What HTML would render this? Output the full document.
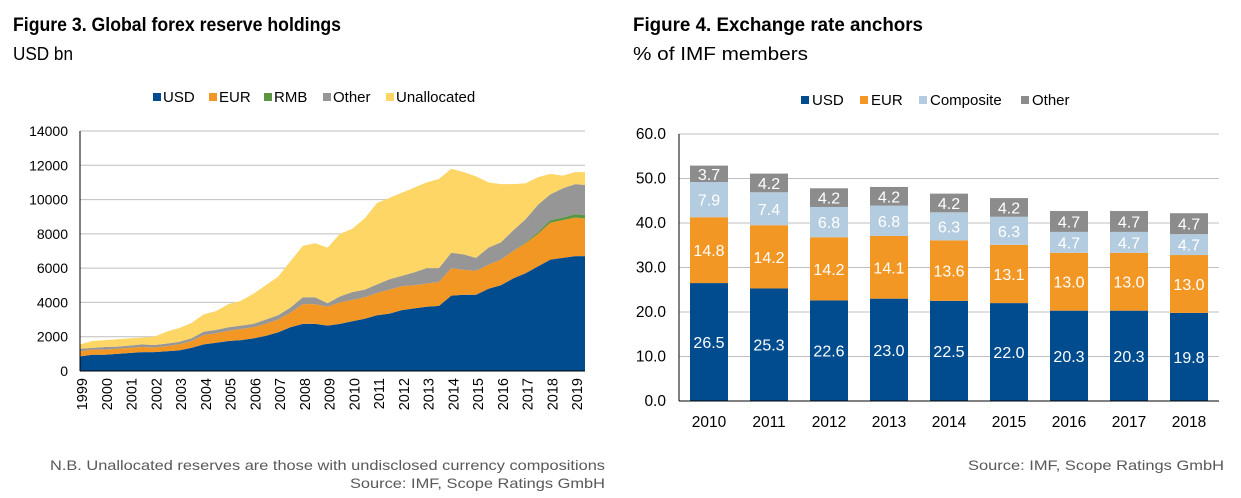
<!DOCTYPE html>
<html><head><meta charset="utf-8"><style>
html,body{margin:0;padding:0;background:#fff;}
svg{display:block;font-family:"Liberation Sans",Arial,sans-serif;}
</style></head><body>
<svg id="root" width="1241" height="498" viewBox="0 0 1241 498" xmlns="http://www.w3.org/2000/svg">
<text x="13" y="31" font-size="19" font-weight="bold" textLength="328" lengthAdjust="spacingAndGlyphs">Figure 3. Global forex reserve holdings</text>
<text x="13" y="60" font-size="18" textLength="60" lengthAdjust="spacingAndGlyphs">USD bn</text>
<text x="633" y="31" font-size="19" font-weight="bold" textLength="290" lengthAdjust="spacingAndGlyphs">Figure 4. Exchange rate anchors</text>
<text x="633" y="60" font-size="18" textLength="175" lengthAdjust="spacingAndGlyphs">% of IMF members</text>
<g id="left"></g>
<g id="right"></g>
<text x="50" y="470" font-size="14" fill="#595959" textLength="555" lengthAdjust="spacingAndGlyphs">N.B. Unallocated reserves are those with undisclosed currency compositions</text>
<text x="350" y="488" font-size="14" fill="#595959" textLength="255" lengthAdjust="spacingAndGlyphs">Source: IMF, Scope Ratings GmbH</text>
<text x="968" y="470" font-size="14" fill="#595959" textLength="256" lengthAdjust="spacingAndGlyphs">Source: IMF, Scope Ratings GmbH</text>
</svg>
<script>
const NS="http://www.w3.org/2000/svg";
// ---- Figure 3 data ----
const times=[1999,1999.5,2000,2000.5,2001,2001.5,2002,2002.5,2003,2003.5,2004,2004.5,2005,2005.5,2006,2006.5,2007,2007.5,2008,2008.5,2009,2009.5,2010,2010.5,2011,2011.5,2012,2012.5,2013,2013.5,2014,2014.5,2015,2015.5,2016,2016.5,2017,2017.5,2018,2018.5,2019,2019.4];
const usd=[850,950,950,1000,1050,1100,1100,1150,1200,1350,1550,1650,1750,1800,1900,2050,2250,2550,2750,2750,2650,2750,2900,3050,3250,3350,3550,3650,3750,3800,4400,4450,4450,4800,5000,5400,5700,6100,6500,6600,6700,6700];
const eur=[300,300,300,300,300,300,280,300,350,400,550,550,600,650,650,700,750,850,1150,1150,1100,1250,1250,1250,1300,1400,1400,1350,1350,1400,1600,1450,1400,1400,1500,1600,1750,1900,2150,2200,2250,2200];
const rmb=[0,0,0,0,0,0,0,0,0,0,0,0,0,0,0,0,0,0,0,0,0,0,0,0,0,0,0,0,0,0,0,0,0,0,0,0,50,100,150,150,200,200];
const other=[150,100,150,120,130,150,140,150,150,150,200,200,200,200,200,250,250,300,400,400,200,350,450,450,500,600,600,750,900,800,900,900,750,1000,1000,1200,1350,1600,1500,1700,1750,1750];
const unalloc=[250,400,400,430,420,400,480,700,800,900,1000,1100,1350,1450,1750,2000,2250,2700,3000,3150,3250,3650,3700,4150,4750,4750,4850,4950,5000,5200,4900,4800,4750,3800,3400,2700,2100,1600,1200,750,700,750];
const yTicks3=[0,2000,4000,6000,8000,10000,12000,14000];
const xYears3=[1999,2000,2001,2002,2003,2004,2005,2006,2007,2008,2009,2010,2011,2012,2013,2014,2015,2016,2017,2018,2019];
// ---- Figure 4 data ----
const cats4=["2010","2011","2012","2013","2014","2015","2016","2017","2018"];
const usd4=[26.5,25.3,22.6,23.0,22.5,22.0,20.3,20.3,19.8];
const eur4=[14.8,14.2,14.2,14.1,13.6,13.1,13.0,13.0,13.0];
const comp4=[7.9,7.4,6.8,6.8,6.3,6.3,4.7,4.7,4.7];
const oth4=[3.7,4.2,4.2,4.2,4.2,4.2,4.7,4.7,4.7];
const yTicks4=[0,10,20,30,40,50,60];

function el(tag,attrs,parent,txt){const e=document.createElementNS(NS,tag);for(const k in attrs)e.setAttribute(k,attrs[k]);if(txt!==undefined)e.textContent=txt;parent.appendChild(e);return e;}

// Figure 3
(function(){
const g=document.getElementById('left');
const X0=80,X1=585,Y0=371,Y1=131;
const x=t=>X0+(t-1999)/(2019.4-1999)*(X1-X0);
const y=v=>Y0-v/14000*(Y0-Y1);
yTicks3.forEach(v=>{
  if(v>0){const l=el('line',{x1:X0,x2:X1,y1:y(v),y2:y(v),stroke:'#bfbfbf','stroke-width':1},g);
  }
  const t=el('text',{x:X0-12,y:y(v)+5,'font-size':14,'text-anchor':'end'},g,String(v));
  
});
const series=[[usd,'#004C8F','area-usd'],[eur,'#F29624','area-eur'],[rmb,'#5B9645','area-rmb'],[other,'#969696','area-other'],[unalloc,'#FDD666','area-unallocated']];
const base=times.map(()=>0);
series.forEach(([vals,col,name])=>{
  const top=base.map((b,i)=>b+vals[i]);
  let d='M'+times.map((t,i)=>x(t)+','+y(top[i])).join('L');
  for(let i=times.length-1;i>=0;i--)d+='L'+x(times[i])+','+y(base[i]);
  d+='Z';
  const p=el('path',{d:d,fill:col},g);
  
  top.forEach((v,i)=>base[i]=v);
});
const ax=el('line',{x1:X0,x2:X0,y1:Y1,y2:Y0,stroke:'#000'},g);

const bx=el('line',{x1:X0,x2:X1,y1:Y0,y2:Y0,stroke:'#000'},g);

xYears3.forEach(yr=>{
  const xx=x(yr)+7;
  const t=el('text',{x:0,y:0,'font-size':14.5,'text-anchor':'end',transform:`translate(${xx},${Y0+7}) rotate(-90)`},g,String(yr));
  
});
const leg=[['USD','#004C8F',163],['EUR','#F29624',219],['RMB','#5B9645',274],['Other','#969696',333],['Unallocated','#FDD666',396]];
leg.forEach(([n,c,lx])=>{
  const r=el('rect',{x:lx-10,y:93,width:8,height:8,fill:c},g);
  
  const t=el('text',{x:lx,y:102,'font-size':15},g,n);
  
});
})();

// Figure 4
(function(){
const g=document.getElementById('right');
const X0=679,X1=1219,Y0=401,Y1=134;
const y=v=>Y0-v/60*(Y0-Y1);
const cx=i=>709+i*60;const bw=38;
yTicks4.forEach(v=>{
  if(v>0){const l=el('line',{x1:X0,x2:X1,y1:y(v),y2:y(v),stroke:'#bfbfbf','stroke-width':1},g);
  }
  const t=el('text',{x:666,y:y(v)+5,'font-size':15.5,'text-anchor':'end'},g,v.toFixed(1));
  
});
const ser=[[usd4,'#004C8F','usd'],[eur4,'#F29624','eur'],[comp4,'#B4CCE0','composite'],[oth4,'#8C8C8C','other']];
cats4.forEach((c,i)=>{
  let b=0;
  ser.forEach(([vals,col,name])=>{
    const v=vals[i];
    const r=el('rect',{x:cx(i)-bw/2,y:y(b+v),width:bw,height:y(b)-y(b+v),fill:col},g);
    
    const t=el('text',{x:cx(i),y:(y(b)+y(b+v))/2+6,'font-size':16,fill:'#fff','text-anchor':'middle'},g,v.toFixed(1));
    
    b+=v;
  });
  const t=el('text',{x:cx(i),y:427,'font-size':15.5,'text-anchor':'middle'},g,c);
  
});
const ax=el('line',{x1:X0,x2:X0,y1:Y1,y2:Y0,stroke:'#000'},g);

const bx=el('line',{x1:X0,x2:X1,y1:Y0,y2:Y0,stroke:'#000'},g);

const leg=[['USD','#004C8F',812],['EUR','#F29624',871],['Composite','#B4CCE0',930],['Other','#8C8C8C',1032]];
leg.forEach(([n,c,lx])=>{
  const r=el('rect',{x:lx-11,y:96,width:8,height:8,fill:c},g);
  
  const t=el('text',{x:lx,y:105,'font-size':15},g,n);
  
});
})();
</script>
</body></html>
